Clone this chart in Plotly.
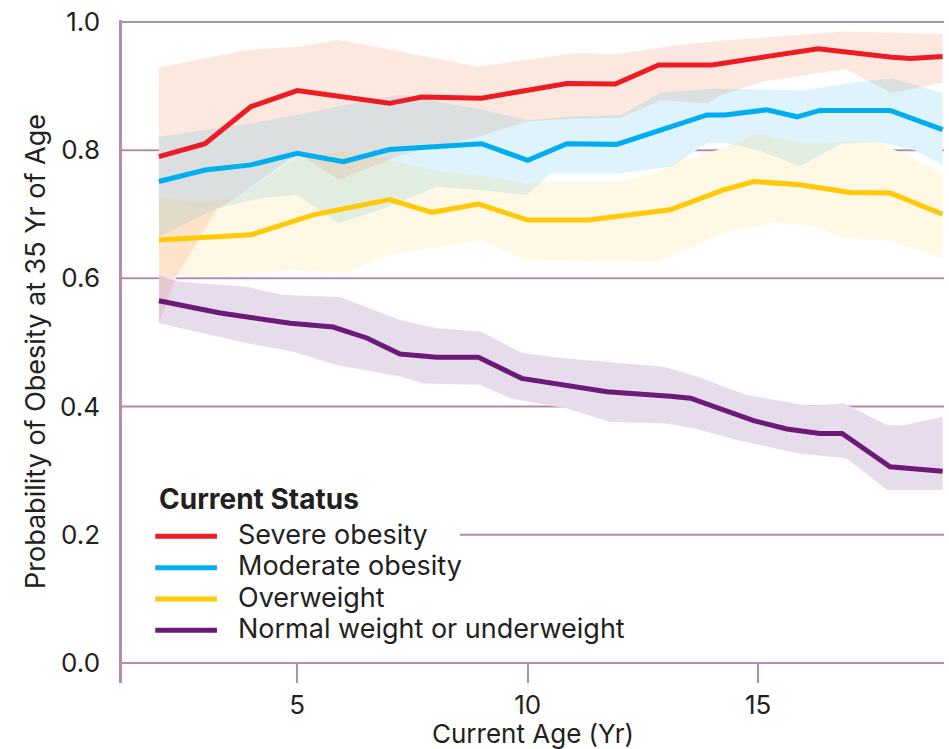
import plotly.graph_objects as go

# ---------------- data ----------------
series_names = ["Severe obesity", "Moderate obesity", "Overweight",
                "Normal weight or underweight"]

red_age = [2, 3, 4, 5, 7, 7.7, 9, 10.85, 11.9, 12.84, 14, 16.3, 17.9, 18.3, 19]
red_mid = [0.790, 0.810, 0.868, 0.893, 0.873, 0.883, 0.881, 0.904, 0.903, 0.933,
           0.933, 0.958, 0.945, 0.943, 0.946]
red_hi_age = [2, 3.9, 5.1, 5.9, 8.93, 11.0, 11.95, 13.26, 14.25, 16.86, 19]
red_hi = [0.929, 0.956, 0.962, 0.972, 0.930, 0.951, 0.950, 0.964, 0.971, 0.985, 0.981]
red_lo_age = [2, 2.4, 2.6, 3.25, 3.7, 5.0, 5.9, 7.0, 7.23, 8.93, 10.0, 11.0, 12.0,
              12.9, 13.9, 14.2, 15.1, 16.9, 17.9, 19]
red_lo = [0.530, 0.605, 0.629, 0.707, 0.727, 0.795, 0.754, 0.785, 0.792, 0.821,
          0.845, 0.849, 0.850, 0.878, 0.873, 0.886, 0.907, 0.926, 0.889, 0.905]

blue_age = [2, 3, 4, 5, 6, 7, 9, 10, 10.85, 11.93, 13.89, 14.28, 15.19, 15.84,
            16.34, 17.86, 19]
blue_mid = [0.751, 0.769, 0.777, 0.795, 0.782, 0.801, 0.810, 0.784, 0.810, 0.809,
            0.855, 0.855, 0.863, 0.852, 0.862, 0.862, 0.832]
blue_hi_age = [2, 4.0, 5.0, 6.2, 7.23, 8.9, 10.0, 11.0, 12.0, 12.9, 13.67, 14.07,
               16.0, 16.9, 17.9, 19]
blue_hi = [0.821, 0.842, 0.855, 0.873, 0.886, 0.865, 0.847, 0.853, 0.854, 0.890,
           0.894, 0.896, 0.893, 0.904, 0.912, 0.889]
blue_lo_age = [2, 3.25, 4.2, 5.0, 5.9, 7.0, 8.03, 8.93, 9.98, 10.5, 12.0, 13.1,
               13.9, 14.3, 15.0, 15.9, 16.8, 17.6, 18.4, 19]
blue_lo = [0.665, 0.709, 0.725, 0.730, 0.686, 0.712, 0.743, 0.738, 0.730, 0.764,
           0.764, 0.774, 0.811, 0.811, 0.800, 0.775, 0.810, 0.813, 0.800, 0.777]

yellow_age = [2, 4, 5.35, 7, 7.92, 8.93, 10, 11.32, 13.09, 14.25, 14.9, 15.91,
              17.0, 17.87, 19]
yellow_mid = [0.660, 0.668, 0.699, 0.723, 0.703, 0.716, 0.691, 0.691, 0.707, 0.738,
              0.751, 0.746, 0.734, 0.733, 0.700]
yellow_hi_age = [2, 2.9, 3.7, 5.0, 6.15, 7.0, 8.03, 8.93, 9.98, 10.5, 12.0, 12.8,
                 13.3, 13.75, 15.0, 16.0, 16.85, 17.6, 19]
yellow_hi = [0.727, 0.718, 0.725, 0.790, 0.798, 0.785, 0.767, 0.761, 0.748, 0.751,
             0.751, 0.764, 0.785, 0.790, 0.826, 0.810, 0.813, 0.813, 0.764]
yellow_lo_age = [2, 3.3, 4.85, 6.0, 6.95, 7.23, 8.97, 9.98, 12.8, 13.1, 14.25,
                 15.4, 16.2, 16.85, 17.86, 19]
yellow_lo = [0.605, 0.603, 0.613, 0.608, 0.636, 0.640, 0.660, 0.629, 0.626, 0.634,
             0.671, 0.688, 0.681, 0.663, 0.660, 0.631]

purple_age = [2, 3.33, 4.85, 5.78, 6.51, 7.23, 8.02, 8.93, 9.87, 11.72, 13.09,
              13.53, 14.9, 15.62, 16.34, 16.82, 17.86, 19]
purple_mid = [0.565, 0.546, 0.530, 0.524, 0.507, 0.482, 0.477, 0.477, 0.444, 0.423,
              0.416, 0.413, 0.378, 0.365, 0.358, 0.358, 0.306, 0.299]
purple_hi_age = [2, 2.4, 3.9, 4.7, 5.93, 7.23, 8.03, 8.97, 9.9, 10.85, 12.95,
                 13.67, 14.75, 16.13, 16.85, 17.8, 18.15, 19]
purple_hi = [0.605, 0.595, 0.587, 0.574, 0.571, 0.535, 0.522, 0.517, 0.483, 0.475,
             0.462, 0.447, 0.418, 0.401, 0.405, 0.371, 0.371, 0.384]
purple_lo_age = [2, 3.9, 4.9, 5.85, 7.23, 7.74, 8.97, 9.62, 10.85, 11.79, 12.95,
                 13.6, 14.54, 15.84, 16.92, 17.8, 19]
purple_lo = [0.530, 0.499, 0.486, 0.465, 0.447, 0.436, 0.434, 0.413, 0.397, 0.376,
             0.374, 0.366, 0.348, 0.327, 0.319, 0.270, 0.270]

x_ticks = [5, 10, 15]
y_ticks = [0.0, 0.2, 0.4, 0.6, 0.8, 1.0]
y_ticktext = ["0.0", "0.2", "0.4", "0.6", "0.8", "1.0"]
legend_title = "Current Status"

# ---------------- styling ----------------
FONT = "Inter"
TXT = "#231F20"
GRID = "#B48CAE"
line_colors = ["#ED1C24", "#00AEEF", "#FFC907", "#6B1A77"]
band_colors = ["rgba(245,150,110,0.22)", "rgba(0,160,230,0.13)",
               "rgba(255,200,40,0.12)", "rgba(110,50,140,0.17)"]

lines = [(red_age, red_mid), (blue_age, blue_mid), (yellow_age, yellow_mid),
         (purple_age, purple_mid)]
bands = [(red_hi_age, red_hi, red_lo_age, red_lo),
         (blue_hi_age, blue_hi, blue_lo_age, blue_lo),
         (yellow_hi_age, yellow_hi, yellow_lo_age, yellow_lo),
         (purple_hi_age, purple_hi, purple_lo_age, purple_lo)]

fig = go.Figure()


def band_polygon(b):
    hx, hy, lx, ly = b
    return list(hx) + list(lx)[::-1], list(hy) + list(ly)[::-1]


# opaque white under-layer so that the bands hide the grid lines
for b in bands:
    px, py = band_polygon(b)
    fig.add_trace(go.Scatter(x=px, y=py, mode="lines", fill="toself",
                             fillcolor="white", line=dict(width=0),
                             showlegend=False, hoverinfo="skip"))
# translucent bands
for b, c in zip(bands, band_colors):
    px, py = band_polygon(b)
    fig.add_trace(go.Scatter(x=px, y=py, mode="lines", fill="toself",
                             fillcolor=c, line=dict(width=0),
                             showlegend=False, hoverinfo="skip"))
# lines
for (ax, ay), name, c in zip(lines, series_names, line_colors):
    fig.add_trace(go.Scatter(x=ax, y=ay, mode="lines", name=name,
                             line=dict(color=c, width=5), showlegend=False))

# grid lines (the 0.2 line is interrupted by the legend)
shapes = []
for v in y_ticks[1:]:
    x0 = 0.411 if v == 0.2 else 0
    shapes.append(dict(type="line", xref="x domain", yref="y", x0=x0, x1=1,
                       y0=v, y1=v, line=dict(color=GRID, width=2), layer="below"))

# hand-drawn legend (long line samples, tight rows, as in the original)
annotations = [dict(text="<b>%s</b>" % legend_title, xref="paper", yref="paper",
                    x=0.043, y=0.2775, xanchor="left", yanchor="middle",
                    showarrow=False, font=dict(size=28, color=TXT))]
row_top, row_step = 0.2213, 0.0473
for i, (name, c) in enumerate(zip(series_names, line_colors)):
    yy = row_top - i * row_step
    shapes.append(dict(type="line", xref="paper", yref="paper", x0=0.0405,
                       x1=0.1155, y0=yy, y1=yy, line=dict(color=c, width=5)))
    annotations.append(dict(text=name, xref="paper", yref="paper", x=0.139,
                            y=yy + 0.003, xanchor="left", yanchor="middle",
                            showarrow=False, font=dict(size=27, color=TXT)))

fig.update_layout(
    width=949, height=749,
    margin=dict(l=122, r=5, t=20, b=66),
    paper_bgcolor="white", plot_bgcolor="white",
    font=dict(family=FONT, color=TXT, size=26),
    shapes=shapes, annotations=annotations,
    showlegend=False,
    xaxis=dict(
        range=[1.2, 19.03], tickvals=x_ticks, ticks="inside", ticklen=20,
        tickwidth=2, tickcolor=GRID, showgrid=False, zeroline=False,
        showline=False, automargin=False, tickfont=dict(size=26, color=TXT),
        ticklabeloverflow="allow", ticklabelstandoff=4,
        title=dict(text="Current Age (Yr)", font=dict(size=26, color=TXT),
                   standoff=10),
    ),
    yaxis=dict(
        range=[-0.0312, 1.003], tickvals=y_ticks, ticktext=y_ticktext,
        showgrid=False, zeroline=True, zerolinecolor=GRID, zerolinewidth=2,
        showline=True, linecolor=GRID, linewidth=2.5, ticks="",
        automargin=False, ticklabelstandoff=14, ticklabeloverflow="allow",
        tickfont=dict(size=26, color=TXT),
        title=dict(text="Probability of Obesity at 35 Yr of Age",
                   font=dict(size=27, color=TXT), standoff=7),
    ),
)

# remove the page's default 8 px body margin so the figure sits at (0, 0)
fig.write_html("out.html", config={"displayModeBar": False},
               post_script="document.body.style.margin='0px';")
